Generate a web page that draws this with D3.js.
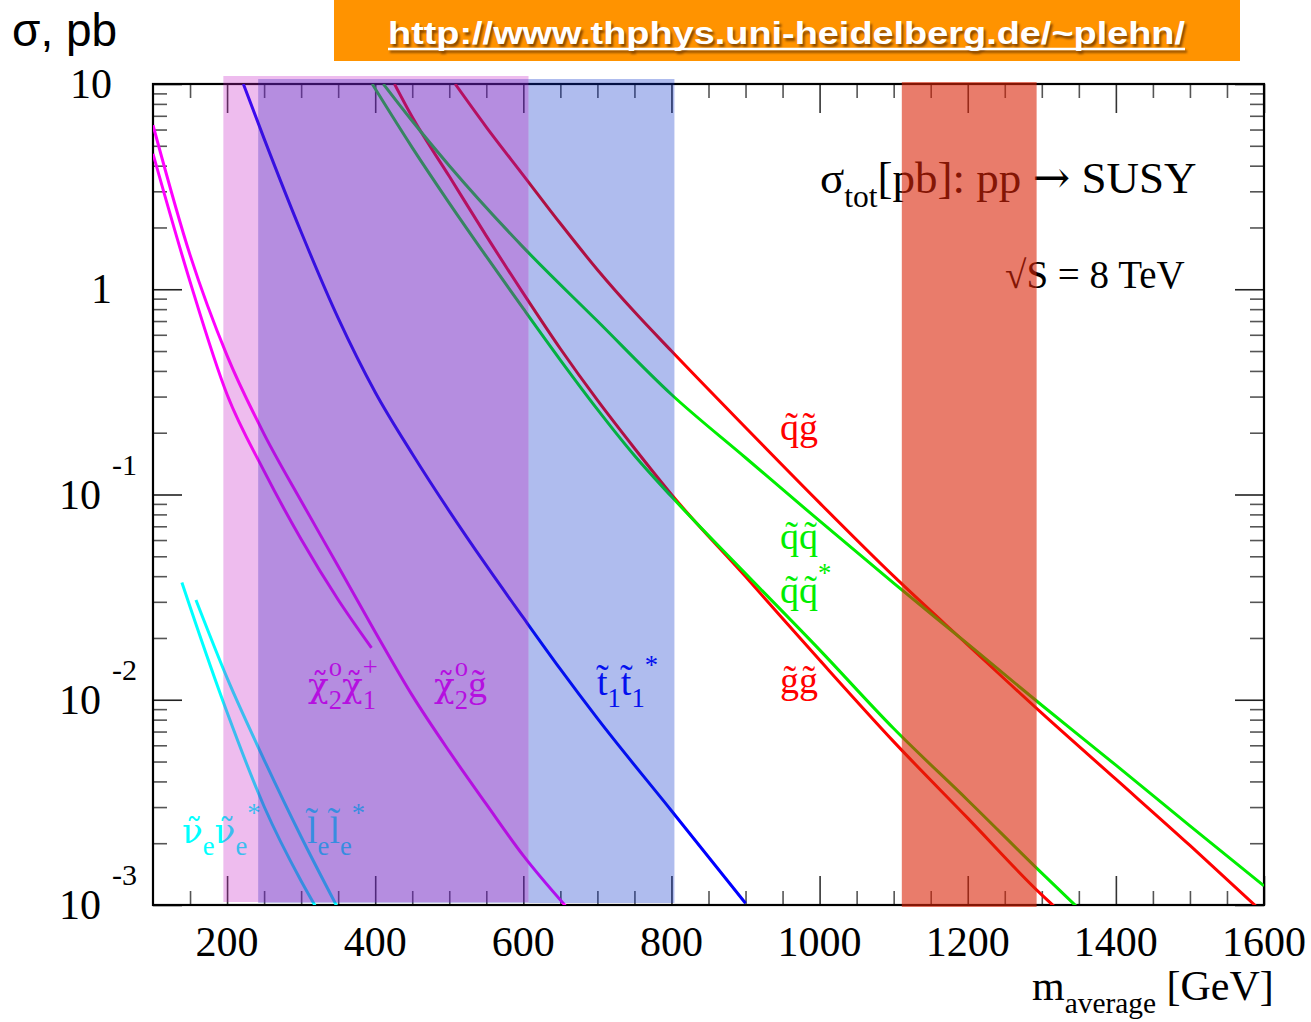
<!DOCTYPE html>
<html>
<head>
<meta charset="utf-8">
<script src="https://cdn.jsdelivr.net/npm/d3@7"></script>
<style>
  body { margin: 0; background: #fff; }
  svg { display: block; }
  text { font-family: 'Liberation Serif', 'Times New Roman', serif; }
</style>
</head>
<body>
<svg id="chart" width="1311" height="1022"></svg>
<script>
// ---- data (mass in GeV, sigma in pb) ----
const massQG = [508, 550, 600, 650, 700, 750, 800, 900, 1000, 1100, 1200, 1300, 1400, 1500, 1590];
const sigmaQG = [10, 6.17, 3.59, 2.09, 1.245, 0.776, 0.50, 0.212, 0.091, 0.040, 0.0185, 0.0086, 0.0041, 0.00195, 0.00098];

const massGG = [426, 450, 500, 550, 600, 650, 700, 750, 800, 900, 1000, 1100, 1200, 1300, 1316];
const sigmaGG = [10, 6.9, 3.55, 1.82, 0.955, 0.513, 0.288, 0.168, 0.1, 0.0398, 0.0156, 0.00625, 0.00265, 0.00112, 0.00099];

const massQQ = [411, 450, 500, 600, 700, 800, 900, 1000, 1100, 1200, 1300, 1400, 1500, 1600];
const sigmaQQ = [10, 6.6, 4.0, 1.6, 0.70, 0.307, 0.151, 0.0743, 0.037, 0.0187, 0.0094, 0.0048, 0.00243, 0.00124];

const massQQbar = [396, 450, 500, 550, 600, 650, 700, 750, 800, 900, 1000, 1100, 1200, 1300, 1346];
const sigmaQQbar = [10, 4.9, 2.63, 1.445, 0.804, 0.452, 0.26, 0.155, 0.0977, 0.0412, 0.0175, 0.00724, 0.00324, 0.00143, 0.00099];

const massTT = [222, 250, 300, 350, 400, 450, 500, 550, 600, 650, 700, 800, 900];
const sigmaTT = [10, 5.42, 1.90, 0.723, 0.315, 0.158, 0.083, 0.0451, 0.0251, 0.0141, 0.00811, 0.00288, 0.00102];

const massN2G = [100, 150, 200, 250, 300, 350, 400, 450, 500, 550, 600, 657];
const sigmaN2G = [6.3, 1.47, 0.475, 0.197, 0.093, 0.0447, 0.0214, 0.0105, 0.0056, 0.0031, 0.00174, 0.00099];

const massN2C1 = [100, 150, 200, 250, 300, 350, 395];
const sigmaN2C1 = [4.57, 1.09, 0.307, 0.130, 0.0605, 0.0307, 0.0179];

const massNuNu = [139, 150, 200, 250, 300, 319];
const sigmaNuNu = [0.0373, 0.0284, 0.00869, 0.00302, 0.00131, 0.00099];

const massLL = [158, 200, 250, 300, 348];
const sigmaLL = [0.0306, 0.01277, 0.0051, 0.00215, 0.00099];

// mass windows of the shaded bands
const bandLo = [195, 242, 607, 1111];
const bandHi = [607, 607, 804, 1293];

const xMajor = [200, 400, 600, 800, 1000, 1200, 1400, 1600];
const yMajor = [0.001, 0.01, 0.1, 1, 10];

// ---- layout ----
const L = 153, R = 1264, T = 84, B = 905;
const svg = d3.select('#chart');

const x = d3.scaleLinear().domain([100, 1600]).range([L, R]);
const y = d3.scaleLog().domain([0.001, 10]).range([B, T]);

// header
svg.append('text')
    .attr('x', 12).attr('y', 46)
    .style('font-family', "'Liberation Sans', Arial, sans-serif")
    .style('font-size', '46px')
    .text('σ, pb');

svg.append('rect').attr('x', 334).attr('y', 0).attr('width', 906).attr('height', 61).attr('fill', '#ff9300');
const defs = svg.append('defs');
defs.append('filter').attr('id', 'blur').append('feGaussianBlur').attr('stdDeviation', 1.2);
const url = 'http://www.thphys.uni-heidelberg.de/~plehn/';
[['#8a4a00', 2, 2.5, 'url(#blur)'], ['#ffffff', 0, 0, null]].forEach(([c, dx, dy, f]) => {
    const g = svg.append('g').attr('transform', `translate(${dx},${dy})`).attr('filter', f);
    g.append('text')
        .attr('x', 388).attr('y', 44)
        .attr('textLength', 797).attr('lengthAdjust', 'spacingAndGlyphs')
        .style('font-family', "'Liberation Sans', Arial, sans-serif")
        .style('font-weight', 'bold').style('font-size', '32px')
        .attr('fill', c)
        .text(url);
    g.append('line').attr('x1', 388).attr('x2', 1185).attr('y1', 49).attr('y2', 49)
        .attr('stroke', c).attr('stroke-width', 2.5);
});

// ticks (ROOT style, pointing inwards on all four sides)
const xMinor = d3.range(150, 1600, 50).filter(v => xMajor.indexOf(v) < 0);
const yMinor = [];
[0.001, 0.01, 0.1, 1].forEach(d => { for (let k = 2; k <= 9; k++) yMinor.push(d * k); });

const axes = svg.append('g');
function tickLayer(axis, tx, ty, vals, len, color) {
    const g = axes.append('g').attr('transform', `translate(${tx},${ty})`)
        .call(axis.tickValues(vals).tickSize(-len).tickFormat(''));
    g.select('.domain').remove();
    g.selectAll('line').attr('stroke', color).attr('stroke-width', 1.6);
}
tickLayer(d3.axisBottom(x), 0, B, xMinor, 14, '#555');
tickLayer(d3.axisBottom(x), 0, B, xMajor, 29, '#333');
tickLayer(d3.axisTop(x), 0, T, xMinor, 14, '#555');
tickLayer(d3.axisTop(x), 0, T, xMajor, 29, '#333');
tickLayer(d3.axisLeft(y), L, 0, yMinor, 14, '#555');
tickLayer(d3.axisLeft(y), L, 0, yMajor, 29, '#222');
tickLayer(d3.axisRight(y), R, 0, yMinor, 14, '#555');
tickLayer(d3.axisRight(y), R, 0, yMajor, 29, '#222');

axes.append('rect').attr('x', L).attr('y', T).attr('width', R - L).attr('height', B - T)
    .attr('fill', 'none').attr('stroke', '#000').attr('stroke-width', 2.2);

// tick labels
svg.append('g').selectAll('text').data(xMajor).join('text')
    .attr('x', d => x(d)).attr('y', 956)
    .attr('text-anchor', 'middle')
    .style('font-size', '42px')
    .text(d => d);

const yl = svg.append('g');
yMajor.forEach(v => {
    const e = Math.round(Math.log10(v));
    if (e >= 0) {
        yl.append('text').attr('x', 112).attr('y', y(v) + 14)
            .attr('text-anchor', 'end').style('font-size', '42px').text(e === 1 ? '10' : '1');
    } else {
        const t = yl.append('text').attr('x', 101).attr('y', y(v) + 14).style('font-size', '42px');
        t.append('tspan').attr('text-anchor', 'end').text('10');
        t.append('tspan').attr('x', 112).attr('y', y(v) - 20).style('font-size', '30px').text('-' + (-e));
    }
});

// rich text helper: parts = [[string, kind, font]], kind n | sub | sup | over (sup stacked on previous sub)
const TL = '\u0303';
const GREEK = "'DejaVu Serif', serif";
function rich(g, x0, y0, color, size, parts) {
    const t = g.append('text').attr('x', x0).attr('y', y0).attr('fill', color).style('font-size', size + 'px');
    let shift = 0, lastW = 0;
    parts.forEach(([s, kind, fam, fs]) => {
        const target = kind === 'sub' ? size * 0.32 : (kind === 'sup' || kind === 'over') ? -size * 0.55 : 0;
        const ts = t.append('tspan').attr('dy', target - shift).text(s);
        if (kind !== 'n') ts.style('font-size', (size * 0.7) + 'px');
        if (fs) ts.style('font-size', (size * fs) + 'px');
        if (kind === 'over') ts.attr('dx', -lastW);
        if (fam) ts.style('font-family', fam);
        shift = target;
        lastW = ts.node().getComputedTextLength();
    });
    return t;
}

// axis title
rich(svg, 1032, 1000, '#000', 42, [['m', 'n'], ['average', 'sub'], [' [GeV]', 'n']]);

// ---- curves ----
const plot = svg.append('g');
defs.append('clipPath').attr('id', 'clip').append('rect')
    .attr('x', L).attr('y', T).attr('width', R - L).attr('height', B - T);

const RED = '#ff0000', GREEN = '#00ee00', BLUE = '#0000ff', MAG = '#ff00ff', CYAN = '#00ffff';
const series = [
    [massQG, sigmaQG, RED],
    [massGG, sigmaGG, RED],
    [massQQ, sigmaQQ, GREEN],
    [massQQbar, sigmaQQbar, GREEN],
    [massTT, sigmaTT, BLUE],
    [massN2G, sigmaN2G, MAG],
    [massN2C1, sigmaN2C1, MAG],
    [massNuNu, sigmaNuNu, CYAN],
    [massLL, sigmaLL, CYAN]
];
const line = d3.line().x(d => x(d[0])).y(d => y(d[1])).curve(d3.curveMonotoneX);
const curves = plot.append('g').attr('clip-path', 'url(#clip)');
series.forEach(([m, s, c]) => {
    curves.append('path')
        .datum(d3.zip(m, s))
        .attr('d', line)
        .attr('fill', 'none')
        .attr('stroke', c)
        .attr('stroke-width', 3);
});

// in-plot text
const lab = plot.append('g');
rich(lab, 820, 193, '#000', 45, [['σ', 'n'], ['tot', 'sub'], ['[pb]: pp ', 'n'], ['→', 'n', "'DejaVu Serif', serif"], [' SUSY', 'n']]);
rich(lab, 1005, 288, '#000', 39, [['√S = 8 TeV', 'n']]);
rich(lab, 780, 440, RED, 38, [['q' + TL + 'g' + TL, 'n']]);
rich(lab, 780, 549, GREEN, 38, [['q' + TL + 'q' + TL, 'n']]);
rich(lab, 780, 603, GREEN, 38, [['q' + TL + 'q' + TL, 'n'], ['*', 'sup']]);
rich(lab, 780, 693, RED, 38, [['g' + TL + 'g' + TL, 'n']]);
rich(lab, 597, 695, BLUE, 38, [['t' + TL, 'n'], ['1', 'sub'], ['t' + TL, 'n'], ['1', 'sub'], ['*', 'sup']]);
rich(lab, 434, 697, MAG, 38, [['χ' + TL, 'n', GREEK, 0.9], ['2', 'sub'], ['o', 'over'], ['g' + TL, 'n']]);
rich(lab, 308, 697, MAG, 38, [['χ' + TL, 'n', GREEK, 0.9], ['2', 'sub'], ['o', 'over'], ['χ' + TL, 'n', GREEK, 0.9], ['1', 'sub'], ['+', 'over']]);
rich(lab, 182, 843, CYAN, 38, [['ν' + TL, 'n', GREEK, 0.9], ['e', 'sub'], ['ν' + TL, 'n', GREEK, 0.9], ['e', 'sub'], ['*', 'sup']]);
rich(lab, 307, 843, CYAN, 38, [['l' + TL, 'n'], ['e', 'sub'], ['l' + TL, 'n'], ['e', 'sub'], ['*', 'sup']]);

// ---- shaded bands, drawn over everything inside the frame ----
const bandStyle = [
    { fill: 'rgb(200,33,200)', op: 0.30, top: 76, bot: 902 },
    { fill: 'rgb(44,31,190)', op: 0.294, top: 79, bot: 903 },
    { fill: 'rgb(9,49,203)', op: 0.325, top: 79, bot: 903 },
    { fill: 'rgb(218,37,8)', op: 0.60, top: 82, bot: 907 }
];
svg.append('g').selectAll('rect').data(d3.zip(bandLo, bandHi, bandStyle)).join('rect')
    .attr('x', d => x(d[0]))
    .attr('width', d => x(d[1]) - x(d[0]))
    .attr('y', d => d[2].top)
    .attr('height', d => d[2].bot - d[2].top)
    .attr('fill', d => d[2].fill)
    .attr('fill-opacity', d => d[2].op);
</script>
</body>
</html>
